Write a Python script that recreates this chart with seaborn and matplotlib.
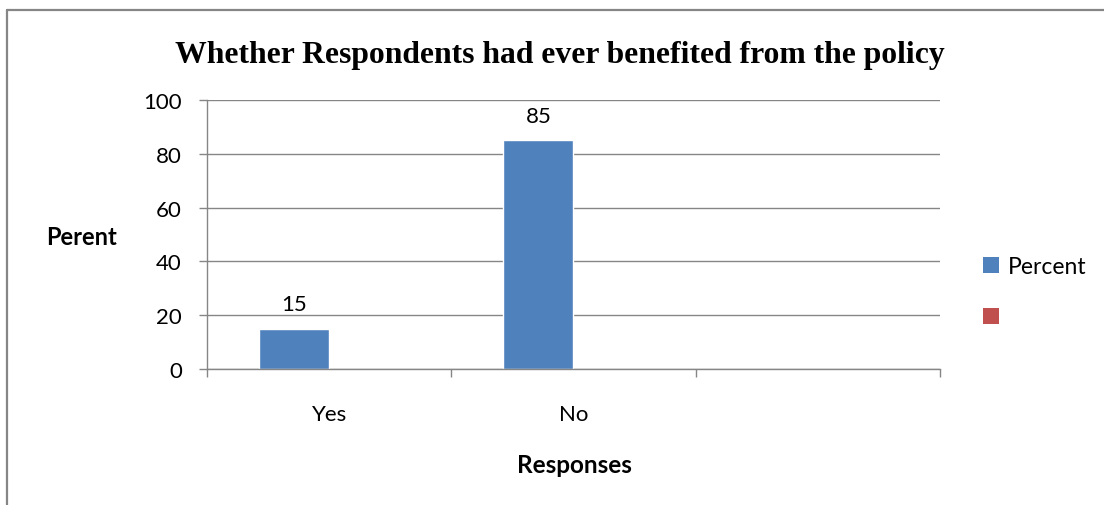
import numpy as np
import pandas as pd
import matplotlib
matplotlib.use("Agg")
import matplotlib.pyplot as plt
import seaborn as sns
from matplotlib.patches import Patch
from matplotlib.lines import Line2D

# ---- data ----
categories = ["Yes", "No", ""]
series_names = ["Percent", " "]
percent_values = [15, 85, np.nan]
second_values = [np.nan, np.nan, np.nan]
y_ticks = [0, 20, 40, 60, 80, 100]

title = "Whether Respondents had ever benefited from the policy"
x_title = "Responses"
y_title = "Perent"

sns.set_style("white")
plt.rcParams['font.family'] = ['Lato', 'DejaVu Sans']
plt.rcParams['text.color'] = 'black'
plt.rcParams['xtick.color'] = 'black'
plt.rcParams['ytick.color'] = 'black'

df = pd.DataFrame({
    "Response": categories * 2,
    "Series": [series_names[0]] * len(categories) + [series_names[1]] * len(categories),
    "Value": percent_values + second_values,
})

colors = ["#4F81BD", "#C0504D"]
grey = "#868686"
W, H = 1104, 506
fig = plt.figure(figsize=(W / 100, H / 100), dpi=100)
ax = fig.add_axes([207 / W, 1 - 370 / H, (940 - 207) / W, 269 / H])

sns.barplot(data=df, x="Response", y="Value", hue="Series", order=categories,
            hue_order=series_names, palette=colors, width=0.574, ax=ax,
            legend=False, saturation=1, errorbar=None)

# data labels
cont = ax.containers[0]
labels = ["" if np.isnan(v) else f"{v:g}" for v in cont.datavalues]
ax.bar_label(cont, labels=labels, padding=10.5, fontsize=16, color="black")

ax.set_xlim(-0.5, len(categories) - 0.5)
ax.set_ylim(y_ticks[0], y_ticks[-1])
ax.set_yticks(y_ticks)
ax.set_yticklabels([str(t) for t in y_ticks])
ax.set_xticks(np.arange(len(categories) + 1) - 0.5)
ax.set_xticklabels([])
ax.set_xticks(np.arange(len(categories)), minor=True)
ax.set_xticklabels(categories, minor=True)
ax.tick_params(axis="x", which="minor", length=0, pad=25, labelsize=16, labelcolor="black")
ax.tick_params(axis="x", which="major", length=6, width=1, color=grey, direction="out", bottom=True)
ax.tick_params(axis="y", length=6, width=1, color=grey, direction="out", pad=12, labelsize=16,
               left=True, labelcolor="black")
ax.set_xlabel("")
ax.set_ylabel("")

ax.yaxis.grid(True, color=grey, linewidth=1.0)
ax.xaxis.grid(False)
ax.set_axisbelow(True)
for s in ["top", "right"]:
    ax.spines[s].set_visible(False)
for s in ["left", "bottom"]:
    ax.spines[s].set_color(grey)
    ax.spines[s].set_linewidth(1.0)

# legend
handles = [Patch(facecolor=c, edgecolor="none") for c in colors]
ax.legend(handles, series_names, loc="center left", bbox_to_anchor=(983 / W, 1 - 293 / H),
          bbox_transform=fig.transFigure, frameon=False, handlelength=0.68, handleheight=0.68,
          handletextpad=0.4, labelspacing=1.3, fontsize=16.5, borderpad=0, borderaxespad=0,
          labelcolor="black")

# titles
fig.text(560 / W, 1 - 55 / H, title, ha="center", va="center", fontsize=22.8,
         fontweight="bold", family=["Liberation Serif", "DejaVu Serif"], color="black")
fig.text(81 / W, 1 - 238 / H, y_title, ha="center", va="center", fontsize=17, fontweight="bold",
         color="black")
fig.text(574 / W, 1 - 466 / H, x_title, ha="center", va="center", fontsize=17.5, fontweight="bold",
         color="black")

# outer chart frame
fig.add_artist(Line2D([7 / W, 7 / W], [0, 1 - 11 / H], transform=fig.transFigure, color=grey, lw=1.6))
fig.add_artist(Line2D([7 / W, 1], [1 - 11 / H, 1 - 11 / H], transform=fig.transFigure, color=grey, lw=1.6))

fig.savefig("out.png", dpi=100, facecolor="white")
